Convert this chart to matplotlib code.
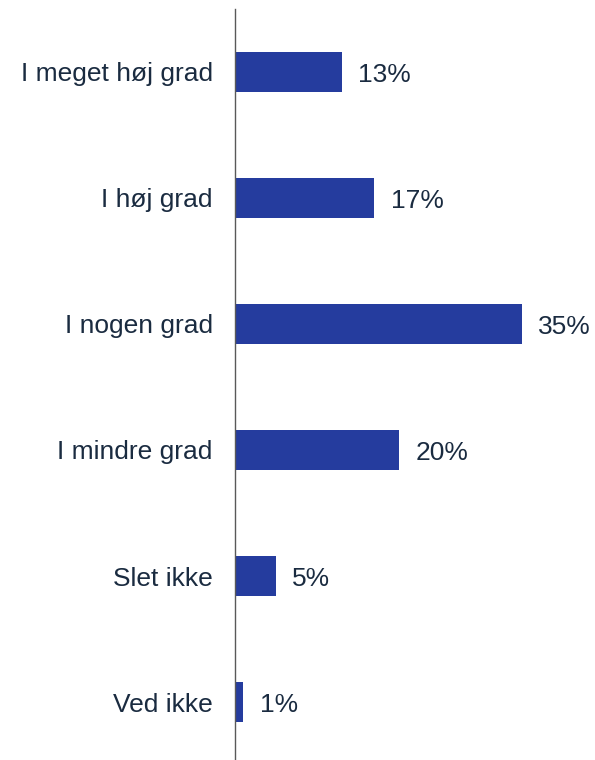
import matplotlib
matplotlib.use('Agg')
import matplotlib.pyplot as plt

categories = ['I meget høj grad', 'I høj grad', 'I nogen grad', 'I mindre grad', 'Slet ikke', 'Ved ikke']
values = [13, 17, 35, 20, 5, 1]

BAR = '#253C9E'
TXT = '#1A2B40'

plt.rcParams['font.family'] = ['Liberation Sans', 'DejaVu Sans']

fig = plt.figure(figsize=(5.95, 7.6), dpi=100)
ax = fig.add_axes([235 / 595, -5 / 760, 328 / 595, 756 / 760])

y = list(range(len(categories)))
ax.barh(y, values, height=0.32, color=BAR)
for yi, v in zip(y, values):
    ax.text(v + 2.0, yi, f'{v}%', va='center_baseline', ha='left', fontsize=19, color=TXT)

ax.set_ylim(len(categories) - 0.5, -0.5)
ax.set_xlim(0, 40)
ax.set_yticks(y)
ax.set_yticklabels(categories, fontsize=19, color=TXT, va='center_baseline')
ax.tick_params(axis='y', length=0, pad=16)
ax.set_xticks([])
for s in ['top', 'right', 'bottom']:
    ax.spines[s].set_visible(False)
ax.spines['left'].set_color('#595959')
ax.spines['left'].set_linewidth(1.0)

fig.savefig('out.png', dpi=100)
